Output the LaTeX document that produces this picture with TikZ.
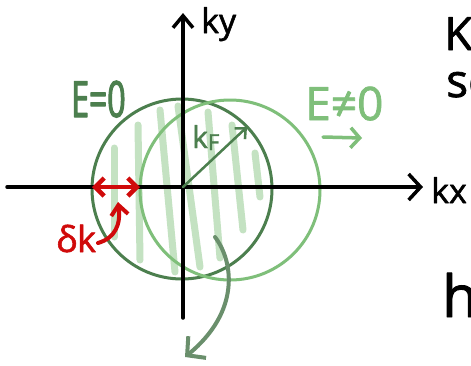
\documentclass[tikz,border=0pt]{standalone}
\usepackage{fontspec}
\setmainfont{Open Sans}[FakeBold=1.6]
\newfontfamily\handn[FakeStretch=0.64,FakeBold=2.2]{Open Sans}
\usetikzlibrary{arrows.meta}
\definecolor{dkg}{HTML}{4C7F4E}
\definecolor{ltg}{HTML}{7FBF7A}
\definecolor{strp}{HTML}{C4E2C2}
\definecolor{gyg}{HTML}{6A8F6C}
\definecolor{rd}{HTML}{D00A0A}
\begin{document}
\begin{tikzpicture}[x=1pt,y=-1pt,line cap=round,line join=round,
  stripe/.style={strp,line width=7pt},
  fermi/.style={circle,line width=3pt,minimum size=180pt,inner sep=0pt,outer sep=0pt},
  axis/.style={black,line width=3.5pt},
  lbl/.style={inner sep=0pt,anchor=base west}]
\clip (0,0) rectangle (471,365);
\fill[white] (0,0) rectangle (471,365);
% stripes
\foreach \a/\b/\c/\d in {114/148/114/237,138/125/140/260,160/110/175/272,178/106/200/267,208/112/220/258,232/125/243/230,255/153/260/197}
  \draw[stripe] (\a,\b) -- (\c,\d);
% Fermi circles
\node[fermi,draw=dkg] (fs0) at (182,189) {};
\node[fermi,draw=ltg] (fs1) at (230,190) {};
% axes
\coordinate (o) at (183,187);
\coordinate (xl) at (7,187);
\coordinate (xr) at (423,187);
\coordinate (yb) at (183,318);
\coordinate (yt) at (183,13);
\draw[axis,-{Straight Barb[length=12pt,width=26pt]}] (xl) -- (xr);
\draw[axis,-{Straight Barb[length=12pt,width=20pt]}] (yb) -- (yt);
% kF radius
\coordinate (kf) at (247,127);
\draw[dkg,line width=2.5pt,-{Straight Barb[length=8pt,width=15pt]}] (o) -- (kf);
% delta k
\draw[rd,line width=4.5pt,{Straight Barb[length=9pt,width=18pt]}-{Straight Barb[length=9pt,width=18pt]}] (fs0.west |- o) -- (fs1.west |- o);
\coordinate (rs) at (98,243);
\coordinate (re) at (118,202);
\draw[rd,line width=4pt,-{Straight Barb[length=10pt,width=17pt]}] (rs) .. controls (115,238) and (121,225) .. (re);
% grey curved arrow
\coordinate (gs) at (215,237);
\coordinate (ge) at (185,357);
\draw[gyg,line width=4pt,-{Straight Barb[length=13pt,width=28pt]}] (gs) .. controls (234,262) and (240,312) .. (ge);
% E != 0 arrow
\coordinate (ea1) at (323,137);
\coordinate (ea2) at (362,138);
\draw[ltg,line width=3.5pt,-{Straight Barb[length=9pt,width=20pt]}] (ea1) -- (ea2);
% labels
\node[lbl,text=dkg] (e0) at (71,117) {\handn\fontsize{50}{50}\selectfont E=0};
\node[lbl,text=ltg] (e1) at (305,120) {\fontsize{46}{46}\selectfont E≠0};
\node[lbl] (ky) at (201,33) {\fontsize{34}{34}\selectfont ky};
\node[lbl] (kx) at (431,203) {\fontsize{34}{34}\selectfont kx};
\node[lbl,text=dkg] (kF) at (192,148) {\fontsize{30}{30}\selectfont k\raisebox{-2pt}{\fontsize{22}{22}\selectfont F}};
\node[lbl,text=rd] (dk) at (56,252) {\fontsize{36}{36}\selectfont δk};
\node[lbl] (t1) at (444,50) {\fontsize{46}{46}\selectfont Ko};
\node[lbl] (t2) at (446,97) {\fontsize{46}{46}\selectfont sc};
\node[lbl] (t3) at (442,317) {\fontsize{58}{58}\selectfont h};
\end{tikzpicture}
\end{document}
